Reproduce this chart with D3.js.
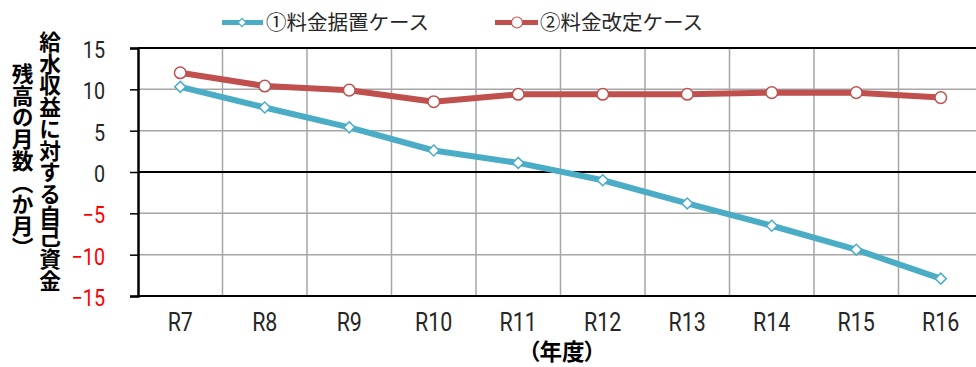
<!DOCTYPE html>
<html><head><meta charset="utf-8">
<script src="https://cdn.jsdelivr.net/npm/d3@7"></script>
<style>
html,body{margin:0;padding:0;background:#fff;overflow:hidden;}
svg{display:block;}
text{font-family:"Noto Sans CJK JP","Noto Sans",sans-serif;}
</style></head>
<body>
<svg id="c" width="976" height="367"></svg>
<script>
const categories = ["R7","R8","R9","R10","R11","R12","R13","R14","R15","R16"];
const seriesNames = ["①料金据置ケース","②料金改定ケース"];
const keepValues = [10.3, 7.8, 5.4, 2.6, 1.1, -1.0, -3.8, -6.5, -9.4, -12.9];
const reviseValues = [12.0, 10.4, 9.9, 8.5, 9.4, 9.4, 9.4, 9.6, 9.6, 9.0];
const yTicks = [-15, -10, -5, 0, 5, 10, 15];
const yTitleLines = ["給水収益に対する自己資金", "残高の月数（か月）"];
const xTitle = "（年度）";

const blue = "#4BACC6", red = "#C0504D";
const svg = d3.select("#c");
const pLeft = 138, pTop = 48, pBottom = 296, bandW = 84.5;
const x = d3.scaleBand().domain(categories).range([pLeft, pLeft + bandW * categories.length]).padding(0);
const y = d3.scaleLinear().domain([-15, 15]).range([pBottom, pTop]);
const pRight = x.range()[1];

// horizontal grid
svg.append("g").selectAll("line").data(yTicks.filter(v => v !== 0 && Math.abs(v) !== 15)).join("line")
  .attr("x1", pLeft).attr("x2", pRight).attr("y1", d => y(d)).attr("y2", d => y(d))
  .attr("stroke", "#a6a6a6").attr("stroke-width", 1.5);
// vertical grid
svg.append("g").selectAll("line").data(categories.slice(1)).join("line")
  .attr("x1", d => x(d)).attr("x2", d => x(d)).attr("y1", pTop).attr("y2", pBottom)
  .attr("stroke", "#a6a6a6").attr("stroke-width", 1.5);
// border lines
[15, 0, -15].forEach(v => svg.append("line").attr("x1", pLeft).attr("x2", pRight)
  .attr("y1", y(v)).attr("y2", y(v)).attr("stroke", "#000").attr("stroke-width", 2));

const tickFont = "Roboto, 'Noto Sans', sans-serif";
// y axis
const yAxis = svg.append("g").attr("transform", `translate(${pLeft},0)`)
  .call(d3.axisLeft(y).tickValues(yTicks).tickSize(8).tickPadding(25).tickFormat(d => d < 0 ? "−" + Math.abs(d) : d));
yAxis.select(".domain").attr("stroke", "#000").attr("stroke-width", 2.5);
yAxis.selectAll(".tick line").attr("stroke", "#000").attr("stroke-width", 1.5);
yAxis.selectAll(".tick text").style("font-family", tickFont).style("font-size", "23.5px")
  .attr("fill", d => d < 0 ? "#FF0000" : "#262626").attr("dy", "0.4em");

// x axis labels
const xAxis = svg.append("g").attr("transform", `translate(0,${pBottom})`)
  .call(d3.axisBottom(x).tickSize(0).tickPadding(17));
xAxis.select(".domain").remove();
xAxis.selectAll(".tick text").style("font-family", tickFont).style("font-size", "25.5px").attr("fill", "#262626");

// condense latin labels
svg.selectAll(".tick text").each(function () {
  const w = this.getComputedTextLength();
  d3.select(this).attr("textLength", w * 0.84).attr("lengthAdjust", "spacingAndGlyphs");
});

// lines
const line = d3.line().x((d, i) => x(categories[i]) + x.bandwidth() / 2).y(d => y(d));
svg.append("path").datum(keepValues).attr("d", line).attr("fill", "none")
  .attr("stroke", blue).attr("stroke-width", 6).attr("stroke-linejoin", "round");
svg.append("path").datum(reviseValues).attr("d", line).attr("fill", "none")
  .attr("stroke", red).attr("stroke-width", 6).attr("stroke-linejoin", "round");

const diamond = d3.symbol().type(d3.symbolSquare).size(60);
svg.append("g").selectAll("path").data(keepValues).join("path")
  .attr("d", diamond())
  .attr("transform", (d, i) => `translate(${x(categories[i]) + x.bandwidth() / 2},${y(d)}) rotate(45)`)
  .attr("fill", "#fff").attr("stroke", blue).attr("stroke-width", 1.5);
svg.append("g").selectAll("circle").data(reviseValues).join("circle")
  .attr("cx", (d, i) => x(categories[i]) + x.bandwidth() / 2).attr("cy", d => y(d)).attr("r", 5.8)
  .attr("fill", "#fff").attr("stroke", red).attr("stroke-width", 1.5);

// legend
const lg = svg.append("g");
const ly = 22.5;
lg.append("line").attr("x1", 222).attr("x2", 263).attr("y1", ly).attr("y2", ly).attr("stroke", blue).attr("stroke-width", 5);
lg.append("path").attr("d", d3.symbol().type(d3.symbolSquare).size(34)())
  .attr("transform", `translate(242,${ly}) rotate(45)`).attr("fill", "#fff").attr("stroke", blue).attr("stroke-width", 1.2);
lg.append("text").attr("x", 266).attr("y", ly).attr("dy", "0.36em").attr("font-size", 20.5).attr("fill", "#262626").text(seriesNames[0]);
lg.append("line").attr("x1", 495).attr("x2", 538).attr("y1", ly).attr("y2", ly).attr("stroke", red).attr("stroke-width", 5);
lg.append("circle").attr("cx", 517).attr("cy", ly).attr("r", 5.5).attr("fill", "#fff").attr("stroke", red).attr("stroke-width", 1.2);
lg.append("text").attr("x", 540).attr("y", ly).attr("dy", "0.36em").attr("font-size", 20.5).attr("fill", "#262626").text(seriesNames[1]);

// y title (vertical)
svg.append("text").attr("x", 50).attr("y", 31).attr("font-size", 21.7).attr("font-weight", "bold")
  .style("writing-mode", "vertical-rl").attr("fill", "#000").text(yTitleLines[0]);
svg.append("text").attr("x", 22.5).attr("y", 63).attr("font-size", 21.7).attr("font-weight", "bold")
  .style("writing-mode", "vertical-rl").attr("fill", "#000").text(yTitleLines[1]);

// x title
svg.append("text").attr("x", 562).attr("y", 352).attr("dy", "0.36em").attr("text-anchor", "middle")
  .attr("font-size", 22.5).attr("font-weight", "bold").style("font-feature-settings", "'palt'")
  .attr("fill", "#000").text(xTitle);
</script>
</body></html>
